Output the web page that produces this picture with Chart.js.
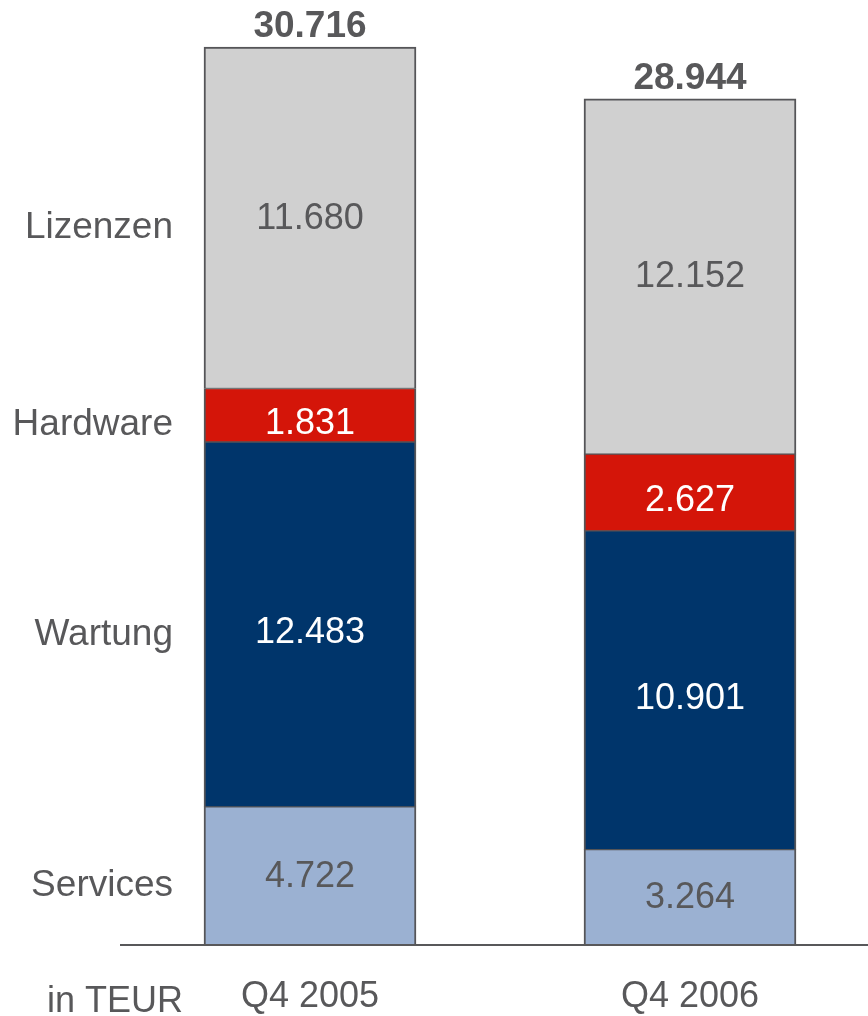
<!DOCTYPE html>
<html>
<head>
<meta charset="utf-8">
<script src="https://cdn.jsdelivr.net/npm/chart.js@4.4.1/dist/chart.umd.min.js"></script>
<style>
html,body{margin:0;padding:0;background:#fff;overflow:hidden;width:868px;height:1016px;}
#wrap{position:absolute;left:0;top:0;width:880px;height:1016px;}
</style>
</head>
<body>
<div id="wrap"><canvas id="c" width="880" height="1016"></canvas></div>
<script>
const categories = ["Q4 2005", "Q4 2006"];
const seriesNames = ["Services", "Wartung", "Hardware", "Lizenzen"];
const services = [4722, 3264];
const wartung = [12483, 10901];
const hardware = [1831, 2627];
const lizenzen = [11680, 12152];
const totals = [30716, 28944];
const unitLabel = "in TEUR";

const colors = ["#9bb1d2", "#00356b", "#d41509", "#d0d0d0"];
const labelColors = ["#58585a", "#ffffff", "#ffffff", "#58585a"];
const labelShift = [0, 8, 8, 0];
const GREY = "#58585a";
const FONT = "'Liberation Sans', Arial, sans-serif";

const fmt = v => v.toLocaleString('de-DE');

const valuesArr = [services, wartung, hardware, lizenzen];
const datasets = seriesNames.map((n, i) => ({
  label: n,
  data: valuesArr[i],
  backgroundColor: colors[i],
  borderColor: "#555558",
  borderWidth: {left: 2, right: 2, top: i === 3 ? 2 : 1, bottom: 1},
  borderSkipped: false,
  barThickness: 212
}));

const labelPlugin = {
  id: 'labels',
  afterDatasetsDraw(chart) {
    const ctx = chart.ctx;
    const xs = chart.scales.x, ys = chart.scales.y;
    ctx.save();
    const base = ys.getPixelForValue(0);
    ctx.strokeStyle = GREY;
    ctx.lineWidth = 2;
    ctx.beginPath();
    ctx.moveTo(120, base);
    ctx.lineTo(chart.width, base);
    ctx.stroke();
    ctx.textAlign = 'center';
    ctx.textBaseline = 'middle';
    chart.data.datasets.forEach((ds, di) => {
      const meta = chart.getDatasetMeta(di);
      meta.data.forEach((bar, j) => {
        const cy = (bar.y + bar.base) / 2;
        ctx.fillStyle = labelColors[di];
        ctx.font = "36px " + FONT;
        ctx.fillText(fmt(ds.data[j]), bar.x, cy + 1 + labelShift[di]);
      });
    });
    ctx.font = "bold 37px " + FONT;
    ctx.fillStyle = GREY;
    totals.forEach((t, j) => {
      ctx.fillText(fmt(t), xs.getPixelForValue(j), ys.getPixelForValue(t) - 20);
    });
    ctx.font = "36px " + FONT;
    categories.forEach((c, j) => {
      ctx.fillText(c, xs.getPixelForValue(j), base + 52);
    });
    ctx.textAlign = 'right';
    ctx.font = "37px " + FONT;
    chart.data.datasets.forEach((ds, di) => {
      const bar = chart.getDatasetMeta(di).data[0];
      ctx.fillText(ds.label, 173, (bar.y + bar.base) / 2 + 10);
    });
    ctx.font = "36px " + FONT;
    ctx.fillText(unitLabel, 183, base + 57);
    ctx.restore();
  }
};

new Chart(document.getElementById('c'), {
  type: 'bar',
  data: {labels: categories, datasets},
  options: {
    responsive: false,
    animation: false,
    layout: {padding: {left: 120, right: 0, top: 0, bottom: 71}},
    plugins: {legend: {display: false}, tooltip: {enabled: false}},
    scales: {
      x: {stacked: true, display: false},
      y: {stacked: true, display: false, min: 0, max: 32324}
    }
  },
  plugins: [labelPlugin]
});
</script>
</body>
</html>
